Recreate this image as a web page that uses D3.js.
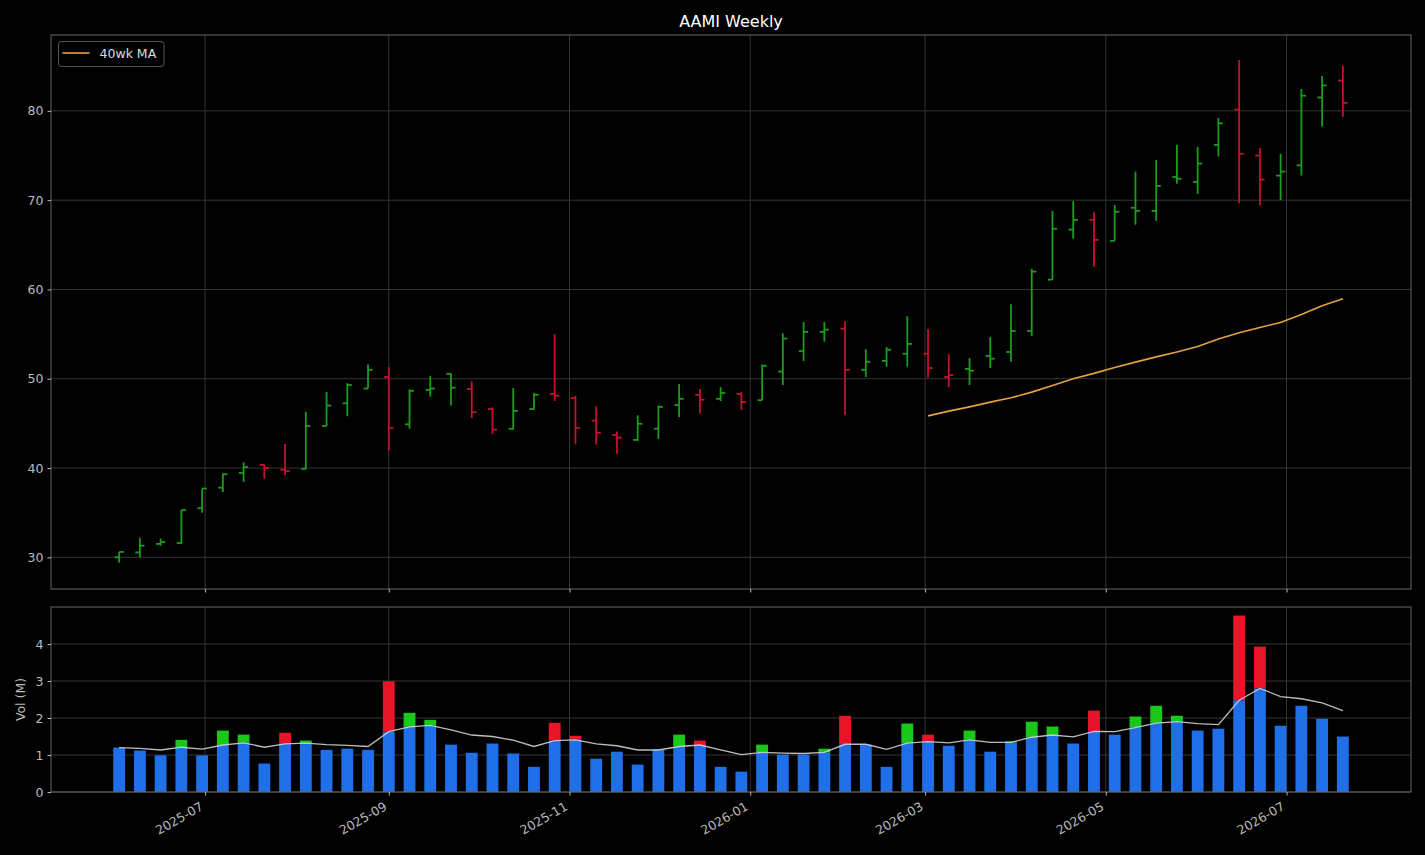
<!DOCTYPE html>
<html>
<head>
<meta charset="utf-8">
<script src="https://cdn.jsdelivr.net/npm/d3@7"></script>
<style>
  body { margin: 0; background: #000; }
  svg { display: block; font-family: "DejaVu Sans", sans-serif; }
</style>
</head>
<body>
<div id="chart"></div>
<script>
// weekly bars
var dates = ["2025-06-02","2025-06-09","2025-06-16","2025-06-23","2025-06-30","2025-07-07","2025-07-14","2025-07-21","2025-07-28","2025-08-04",
  "2025-08-11","2025-08-18","2025-08-25","2025-09-01","2025-09-08","2025-09-15","2025-09-22","2025-09-29","2025-10-06","2025-10-13",
  "2025-10-20","2025-10-27","2025-11-03","2025-11-10","2025-11-17","2025-11-24","2025-12-01","2025-12-08","2025-12-15","2025-12-22",
  "2025-12-29","2026-01-05","2026-01-12","2026-01-19","2026-01-26","2026-02-02","2026-02-09","2026-02-16","2026-02-23","2026-03-02",
  "2026-03-09","2026-03-16","2026-03-23","2026-03-30","2026-04-06","2026-04-13","2026-04-20","2026-04-27","2026-05-04","2026-05-11",
  "2026-05-18","2026-05-25","2026-06-01","2026-06-08","2026-06-15","2026-06-22","2026-06-29","2026-07-06","2026-07-13","2026-07-20"];

var opens = [30.0,30.55,31.5,31.6,35.5,37.8,39.45,40.35,39.8,39.9,
  44.7,47.25,48.9,50.2,44.9,48.75,50.55,48.85,46.6,44.4,
  46.6,48.3,47.85,45.3,43.7,43.15,44.4,47.05,48.2,47.75,
  48.3,47.6,50.8,53.1,55.25,55.6,51.0,52.0,52.8,52.8,
  50.2,51.1,52.55,53.0,55.35,61.1,66.7,67.8,65.45,69.15,
  68.8,72.6,72.05,76.2,80.15,75.0,72.75,73.9,81.5,83.4];

var highs = [30.6,32.2,32.1,35.3,37.7,39.4,40.65,40.4,42.7,46.3,
  48.5,49.5,51.6,51.3,48.8,50.3,50.6,49.7,46.8,48.95,
  48.4,55.0,48.1,46.9,44.1,45.9,47.0,49.4,48.85,49.05,
  48.5,51.6,55.1,56.35,56.35,56.45,53.3,53.55,57.0,55.55,
  52.75,52.3,54.65,58.35,62.3,68.8,69.9,68.7,69.45,73.2,
  74.5,76.2,75.95,79.2,85.7,75.85,75.2,82.45,83.9,85.05];

var lows = [29.4,30.0,31.3,31.5,35.0,37.3,38.45,38.8,39.2,39.85,
  44.7,45.8,48.9,42.0,44.4,48.0,47.0,45.6,43.8,44.3,
  46.5,47.5,42.7,42.6,41.6,43.05,43.25,45.7,46.1,47.5,
  46.5,47.6,49.3,52.0,54.15,45.95,50.2,51.35,51.35,50.1,
  49.05,49.3,51.2,51.9,54.8,61.1,65.7,62.55,65.45,67.25,
  67.7,71.85,70.7,74.9,69.65,69.4,70.0,72.75,78.25,79.35];

var closes = [30.6,31.3,31.7,35.3,37.7,39.3,40.1,40.0,39.65,44.7,
  47.0,49.3,51.0,44.5,48.65,48.9,49.0,46.25,44.3,46.4,
  48.2,48.1,44.5,43.95,43.4,44.95,46.85,47.75,47.65,48.4,
  47.4,51.45,54.5,55.25,55.5,51.0,51.9,53.25,53.9,51.2,
  50.4,50.9,52.25,55.35,62.0,66.8,67.8,65.55,68.7,68.8,
  71.6,72.4,74.1,78.6,75.2,72.3,73.2,81.7,82.85,80.9];

// 40 week moving average of the close (first 39 weeks empty)
var priceMA = [null,null,null,null,null,null,null,null,null,null,
  null,null,null,null,null,null,null,null,null,null,
  null,null,null,null,null,null,null,null,null,null,
  null,null,null,null,null,null,null,null,null,45.84,
  46.37,46.85,47.38,47.86,48.5,49.25,50.0,50.6,51.27,51.86,
  52.45,53.0,53.6,54.45,55.15,55.75,56.3,57.2,58.17,58.95];

// volume in millions and its moving average
var volumes = [1.20,1.12,0.99,1.41,0.99,1.66,1.55,0.77,1.60,1.39,
  1.14,1.17,1.14,2.99,2.14,1.95,1.28,1.06,1.31,1.04,
  0.68,1.87,1.52,0.90,1.09,0.74,1.15,1.55,1.39,0.68,
  0.55,1.28,1.01,1.01,1.17,2.06,1.28,0.68,1.85,1.55,
  1.25,1.66,1.09,1.37,1.90,1.77,1.31,2.20,1.55,2.04,
  2.33,2.06,1.66,1.71,4.77,3.93,1.79,2.33,1.98,1.50];

var volumeMA = [1.20,1.18,1.135,1.21,1.16,1.27,1.33,1.21,1.30,1.32,
  1.28,1.26,1.23,1.63,1.76,1.80,1.68,1.54,1.50,1.40,
  1.23,1.39,1.41,1.30,1.25,1.135,1.135,1.23,1.27,1.14,
  1.01,1.07,1.05,1.04,1.07,1.29,1.29,1.15,1.32,1.36,
  1.33,1.41,1.34,1.34,1.48,1.54,1.49,1.64,1.63,1.74,
  1.86,1.90,1.85,1.82,2.48,2.80,2.58,2.52,2.41,2.20];

var priceTicks = [30, 40, 50, 60, 70, 80];
var volumeTicks = [0, 1, 2, 3, 4];
var monthTicks = ["2025-07-01","2025-09-01","2025-11-01","2026-01-01","2026-03-01","2026-05-01","2026-07-01"];

var visualize = function() {
  var W = 1425, H = 855;
  var left = 51, right = 1411;
  var pTop = 35, pBottom = 589;
  var vTop = 607, vBottom = 792;

  var colors = {
    upBar: "#1a9e1a", downBar: "#c8102e",
    upVol: "#1ac81a", downVol: "#e8142a", vol: "#1f6fe8",
    ma: "#e3a33f", volMa: "#d0d0d0",
    grid: "#363636", spine: "#666", tick: "#bbb"
  };

  var parse = d3.timeParse("%Y-%m-%d");
  var data = dates.map(function(d, i) {
    return {
      date: parse(d), open: opens[i], high: highs[i], low: lows[i], close: closes[i],
      vol: volumes[i], volMa: volumeMA[i], ma: priceMA[i],
      up: i == 0 ? closes[i] >= opens[i] : closes[i] >= closes[i - 1]
    };
  });

  var svg = d3.select("#chart").append("svg")
    .attr("width", W).attr("height", H)
    .style("background", "#000");

  var first = data[0].date, last = data[data.length - 1].date;
  var x = d3.scaleTime()
    .domain([d3.timeDay.offset(first, -23), d3.timeDay.offset(last, 23)])
    .range([left, right]);
  var yP = d3.scaleLinear().domain([26.45, 88.5]).range([pBottom, pTop]);
  var yV = d3.scaleLinear().domain([0, 5.0]).range([vBottom, vTop]);

  var tickDates = monthTicks.map(parse);

  // grid lines
  [[pTop, pBottom], [vTop, vBottom]].forEach(function(p) {
    svg.append("g").selectAll("line")
      .data(tickDates).enter().append("line")
      .attr("x1", function(d) { return x(d); }).attr("x2", function(d) { return x(d); })
      .attr("y1", p[0]).attr("y2", p[1])
      .attr("stroke", colors.grid).attr("stroke-width", 1);
  });
  svg.append("g").selectAll("line")
    .data(priceTicks).enter().append("line")
    .attr("x1", left).attr("x2", right)
    .attr("y1", function(d) { return yP(d); }).attr("y2", function(d) { return yP(d); })
    .attr("stroke", colors.grid).attr("stroke-width", 1);
  svg.append("g").selectAll("line")
    .data(volumeTicks).enter().append("line")
    .attr("x1", left).attr("x2", right)
    .attr("y1", function(d) { return yV(d); }).attr("y2", function(d) { return yV(d); })
    .attr("stroke", colors.grid).attr("stroke-width", 1);

  // OHLC bars
  var tickW = 4.6;
  var bars = svg.append("g").selectAll("g.ohlc")
    .data(data).enter().append("g")
    .attr("class", "ohlc")
    .attr("stroke", function(d) { return d.up ? colors.upBar : colors.downBar; })
    .attr("stroke-width", 1.8);
  bars.append("line")
    .attr("x1", function(d) { return x(d.date); }).attr("x2", function(d) { return x(d.date); })
    .attr("y1", function(d) { return yP(d.high); }).attr("y2", function(d) { return yP(d.low); });
  bars.append("line")
    .attr("x1", function(d) { return x(d.date) - tickW; }).attr("x2", function(d) { return x(d.date); })
    .attr("y1", function(d) { return yP(d.open); }).attr("y2", function(d) { return yP(d.open); });
  bars.append("line")
    .attr("x1", function(d) { return x(d.date); }).attr("x2", function(d) { return x(d.date) + tickW; })
    .attr("y1", function(d) { return yP(d.close); }).attr("y2", function(d) { return yP(d.close); });

  // 40wk MA
  var maLine = d3.line()
    .defined(function(d) { return d.ma != null; })
    .x(function(d) { return x(d.date); })
    .y(function(d) { return yP(d.ma); });
  svg.append("path").datum(data)
    .attr("d", maLine)
    .attr("fill", "none").attr("stroke", colors.ma).attr("stroke-width", 1.6);

  // volume bars: blue up to the average, the excess coloured by direction
  var barW = x(d3.timeDay.offset(first, 4)) - x(first);
  svg.append("g").selectAll("rect.vol")
    .data(data).enter().append("rect")
    .attr("class", "vol")
    .attr("x", function(d) { return x(d.date) - barW / 2; })
    .attr("width", barW)
    .attr("y", function(d) { return yV(Math.min(d.vol, d.volMa)); })
    .attr("height", function(d) { return yV(0) - yV(Math.min(d.vol, d.volMa)); })
    .attr("fill", colors.vol);
  svg.append("g").selectAll("rect.excess")
    .data(data.filter(function(d) { return d.vol > d.volMa; })).enter().append("rect")
    .attr("class", "excess")
    .attr("x", function(d) { return x(d.date) - barW / 2; })
    .attr("width", barW)
    .attr("y", function(d) { return yV(d.vol); })
    .attr("height", function(d) { return yV(d.volMa) - yV(d.vol); })
    .attr("fill", function(d) { return d.up ? colors.upVol : colors.downVol; });

  var volLine = d3.line()
    .x(function(d) { return x(d.date); })
    .y(function(d) { return yV(d.volMa); });
  svg.append("path").datum(data)
    .attr("d", volLine)
    .attr("fill", "none").attr("stroke", colors.volMa).attr("stroke-width", 1.3).attr("opacity", 0.9);

  // frames
  [[pTop, pBottom], [vTop, vBottom]].forEach(function(p) {
    svg.append("rect")
      .attr("x", left).attr("y", p[0])
      .attr("width", right - left).attr("height", p[1] - p[0])
      .attr("fill", "none").attr("stroke", colors.spine).attr("stroke-width", 1);
  });

  // axes
  function styleAxis(g) {
    g.select(".domain").remove();
    g.selectAll(".tick line").attr("stroke", colors.tick);
    g.selectAll(".tick text").attr("fill", colors.tick).attr("font-size", "12.5px")
      .attr("font-family", "DejaVu Sans, sans-serif");
  }
  svg.append("g").attr("transform", "translate(" + left + ",0)")
    .call(d3.axisLeft(yP).tickValues(priceTicks).tickSize(3.5).tickPadding(4).tickFormat(d3.format("d")))
    .call(styleAxis);
  svg.append("g").attr("transform", "translate(" + left + ",0)")
    .call(d3.axisLeft(yV).tickValues(volumeTicks).tickSize(3.5).tickPadding(4).tickFormat(d3.format("d")))
    .call(styleAxis);
  svg.append("g").attr("transform", "translate(0," + pBottom + ")")
    .call(d3.axisBottom(x).tickValues(tickDates).tickSize(3.5).tickFormat(""))
    .call(styleAxis);
  var xAxis = svg.append("g").attr("transform", "translate(0," + vBottom + ")")
    .call(d3.axisBottom(x).tickValues(tickDates).tickSize(3.5).tickFormat(d3.timeFormat("%Y-%m")))
    .call(styleAxis);
  xAxis.selectAll(".tick text")
    .attr("text-anchor", "end")
    .attr("dy", 0).attr("y", 0)
    .attr("transform", "translate(-1.5,17) rotate(-30)");

  // title and labels
  svg.append("text")
    .attr("x", (left + right) / 2).attr("y", 27)
    .attr("text-anchor", "middle")
    .attr("fill", "#fff").attr("font-size", "16px")
    .text("AAMI Weekly");
  svg.append("text")
    .attr("transform", "translate(25," + ((vTop + vBottom) / 2) + ") rotate(-90)")
    .attr("text-anchor", "middle")
    .attr("fill", colors.tick).attr("font-size", "12.5px")
    .text("Vol (M)");

  // legend
  var lg = svg.append("g").attr("transform", "translate(58.5,41.5)");
  lg.append("rect")
    .attr("width", 105.5).attr("height", 25).attr("rx", 3)
    .attr("fill", "#000").attr("fill-opacity", 0.8)
    .attr("stroke", "#555").attr("stroke-width", 1);
  lg.append("line")
    .attr("x1", 4).attr("x2", 31).attr("y1", 11.5).attr("y2", 11.5)
    .attr("stroke", colors.ma).attr("stroke-width", 1.6);
  lg.append("text")
    .attr("x", 41).attr("y", 16.5)
    .attr("fill", "#ddd").attr("font-size", "12.5px")
    .text("40wk MA");
};

visualize();
</script>
</body>
</html>
